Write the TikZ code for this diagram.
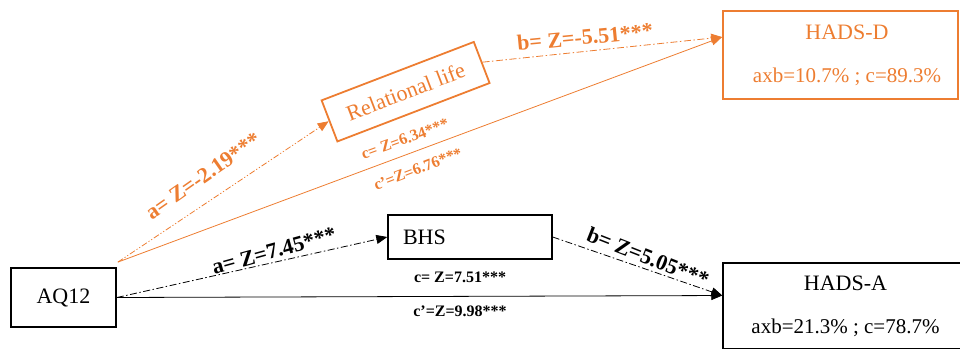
\documentclass[tikz,border=0pt]{standalone}
\usepackage{fontspec}
\setmainfont{Liberation Serif}
\usetikzlibrary{arrows.meta,calc}
\definecolor{org}{HTML}{ED7D31}
\begin{document}
\begin{tikzpicture}[x=1pt,y=-1pt,
  boxnode/.style={draw, line width=1.4pt, inner sep=0pt, font=\fontsize{22}{26}\selectfont},
  obox/.style={boxnode, draw=org, text=org, line width=1.8pt},
  lbl/.style={font=\fontsize{22}{26}\selectfont\bfseries, inner sep=0pt},
  slbl/.style={font=\fontsize{16}{19}\selectfont\bfseries, inner sep=0pt},
  arr/.style={-{Triangle[length=11pt,width=9pt]}, line width=0.8pt},
  dd/.style={dash pattern=on 7pt off 2.5pt on 1.5pt off 2.5pt},
  ddd/.style={dash pattern=on 6pt off 2pt on 1.2pt off 2pt on 1.2pt off 2pt}]
\useasboundingbox (0,0) rectangle (960,348);
\clip (0,0) rectangle (960,348);
% nodes
\node[boxnode, line width=1.8pt, minimum width=105pt, minimum height=59pt] (aq) at (63.5,297.5) {AQ12};
\node[boxnode, minimum width=164pt, minimum height=44pt, text width=134pt, align=left] (bhs) at (470,237) {BHS};
\node[boxnode, minimum width=245pt, minimum height=86pt, align=center] (hadsa) at (845.5,306)
  {HADS-A\\[17pt]\fontsize{21}{25}\selectfont axb=21.3\% ; c=78.7\%};
\node[obox, minimum width=235pt, minimum height=88pt, align=center] (hadsd) at (840.5,55)
  {\hspace*{13pt}HADS-D\\[17pt]\fontsize{21}{25}\selectfont\hspace*{13pt}axb=10.7\% ; c=89.3\%};
\node[obox, minimum width=163pt, minimum height=44pt, rotate=21] (rel) at (405.6,91.7) {Relational life};
% connection points
\coordinate (aqo) at ($(aq.north east)+(1,-5)$);
\coordinate (hdin) at ($(hadsd.north west)!0.3!(hadsd.south west)$);
\coordinate (hain) at ($(hadsa.north west)!0.38!(hadsa.south west)$);
% connectors
\draw[arr, org, ddd] (aqo) -- (rel.west);
\draw[arr, org] (aqo) -- (hdin);
\draw[arr, org, dd] (rel.east) -- (hdin);
\draw[arr, dd] (aq.east) -- (bhs.west);
\draw[arr] (aq.east) -- (hain);
\draw[arr, dd] (bhs.east) -- (hain);
% labels
\node[lbl, org, rotate=35] (la1) at (203,176) {a= Z=-2.19***};
\node[lbl, org, rotate=5.5] (lb1) at (585,37) {b= Z=-5.51***};
\node[slbl, org, rotate=20] (lc1) at (405,139) {c= Z=6.34***};
\node[slbl, org, rotate=21] (lcp1) at (418,169) {c'=Z=6.76***};
\node[lbl, rotate=15.4] (la2) at (274,251) {a= Z=7.45***};
\node[lbl, rotate=-21.5] (lb2) at (648,257) {b= Z=5.05***};
\node[slbl] (lc2) at (460,277) {c= Z=7.51***};
\node[slbl] (lcp2) at (460,311) {c'=Z=9.98***};
\end{tikzpicture}
\end{document}
